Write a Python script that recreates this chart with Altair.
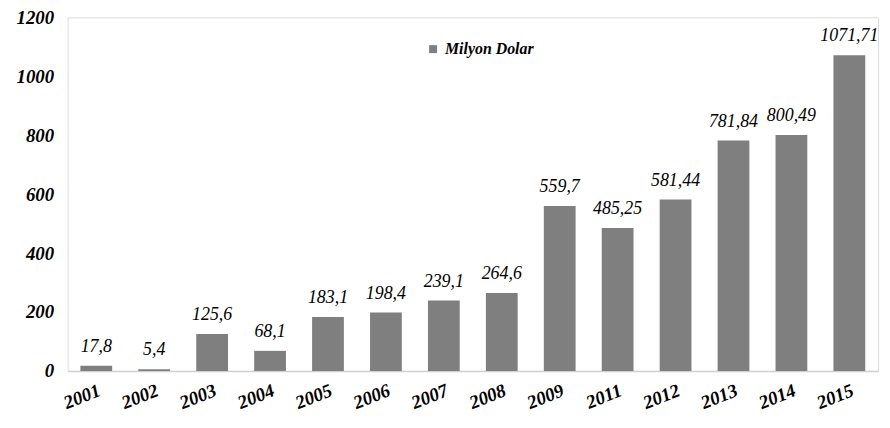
import altair as alt
import pandas as pd

years = ["2001", "2002", "2003", "2004", "2005", "2006", "2007",
         "2008", "2009", "2011", "2012", "2013", "2014", "2015"]
values = [17.8, 5.4, 125.6, 68.1, 183.1, 198.4, 239.1,
          264.6, 559.7, 485.25, 581.44, 781.84, 800.49, 1071.71]
labels = ["17,8", "5,4", "125,6", "68,1", "183,1", "198,4", "239,1",
          "264,6", "559,7", "485,25", "581,44", "781,84", "800,49", "1071,71"]
series = "Milyon Dolar"

df = pd.DataFrame({"Yıl": years, "Değer": values, "Etiket": labels, "Seri": series})

FONT = "Liberation Serif"

x = alt.X("Yıl:N", sort=years, title=None,
          scale=alt.Scale(paddingInner=0.45, paddingOuter=0.22),
          axis=alt.Axis(labelAngle=-22, labelAlign="right", labelBaseline="top",
                        labelPadding=10, ticks=False, domainColor="#d0d0d0",
                        domainWidth=1.5, labelFont=FONT, labelFontSize=19,
                        labelFontStyle="italic", labelFontWeight="bold",
                        labelColor="#000000"))
y = alt.Y("Değer:Q", title=None,
          scale=alt.Scale(domain=[0, 1200], nice=False),
          axis=alt.Axis(values=[0, 200, 400, 600, 800, 1000, 1200], grid=False,
                        format="d", ticks=False, domain=False, labelPadding=14,
                        labelFont=FONT, labelFontSize=19, labelFontStyle="italic",
                        labelFontWeight="bold", labelColor="#000000"))

bars = alt.Chart(df).mark_bar(size=32).encode(
    x=x, y=y,
    color=alt.Color("Seri:N", scale=alt.Scale(range=["#7f7f7f"]),
                    legend=alt.Legend(title=None, orient="none", legendX=360, legendY=24,
                                      symbolType="square", symbolSize=64,
                                      symbolStrokeWidth=0, labelOffset=4,
                                      labelFont=FONT, labelFontSize=16,
                                      labelFontStyle="italic", labelFontWeight="bold",
                                      labelColor="#000000")))

text = alt.Chart(df).mark_text(dy=-14, baseline="alphabetic", font=FONT, fontSize=18,
                               fontStyle="italic", color="#000000").encode(
    x=alt.X("Yıl:N", sort=years), y="Değer:Q", text="Etiket:N")

chart = (bars + text).properties(
    width=816, height=356,
    padding={"left": 60, "top": 8, "right": 4, "bottom": 48},
    autosize=alt.AutoSizeParams(type="none"),
).configure_view(stroke=None).configure(background="#ffffff")

chart.save("out.html", embed_options={"renderer": "svg", "actions": False})
